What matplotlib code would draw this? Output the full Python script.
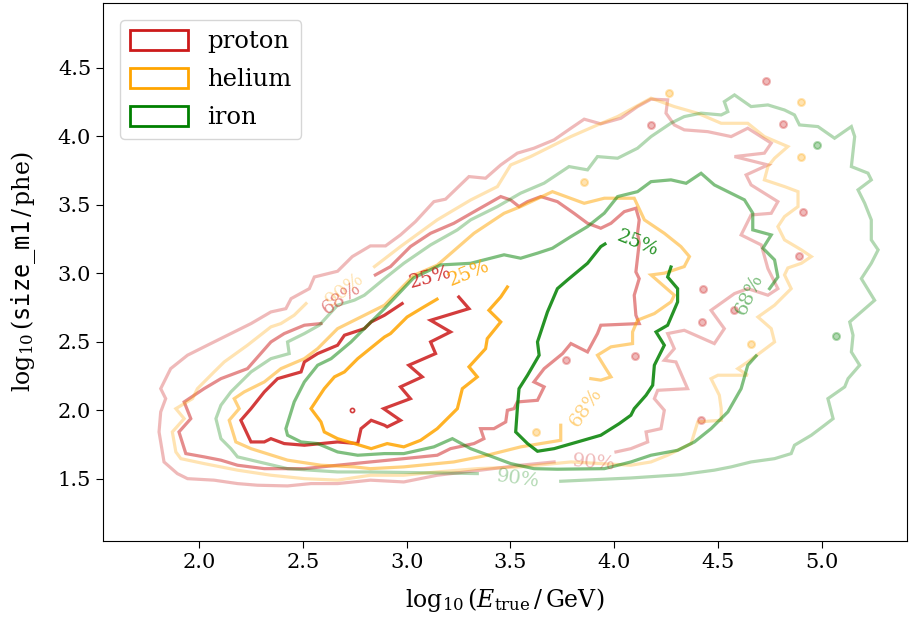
import matplotlib
matplotlib.use("Agg")
import matplotlib.pyplot as plt
from matplotlib.patches import Patch

plt.rcParams["font.family"] = "serif"
plt.rcParams["font.serif"] = ["DejaVu Serif"]
plt.rcParams["mathtext.fontset"] = "dejavuserif"

# ---- contour outlines (x: log10 E_true, y: log10 size) ----
# proton
proton_25_x = [2.978, 2.893, 2.829, 2.796, 2.700, 2.667, 2.571, 2.507, 2.491, 2.378, 2.314, 2.250, 2.201,
               2.250, 2.314, 2.346, 2.410, 2.507, 2.587, 2.667, 2.764, 2.780, 2.829, 2.893, 2.906, 2.970,
               2.889, 3.018, 2.970, 3.075, 3.010, 3.139, 3.115, 3.211, 3.115, 3.300, 3.251]
proton_25_y = [2.780, 2.695, 2.646, 2.597, 2.549, 2.476, 2.415, 2.354, 2.281, 2.232, 2.135, 2.013, 1.928,
               1.770, 1.770, 1.794, 1.758, 1.746, 1.758, 1.770, 1.758, 1.867, 1.928, 1.892, 1.880, 1.928,
               2.013, 2.086, 2.172, 2.245, 2.330, 2.415, 2.500, 2.573, 2.658, 2.743, 2.828]
proton_68_x = [2.849, 2.922, 3.018, 3.115, 3.227, 3.340, 3.453, 3.501, 3.541, 3.582, 3.646, 3.726, 3.806,
               3.871, 3.935, 3.984, 4.048, 4.104, 4.120, 4.112, 4.120, 4.104, 4.120, 4.096, 4.104, 4.120,
               3.935, 3.919, 3.871, 3.791, 3.751, 3.662, 3.613, 3.662, 3.630, 3.533, 3.517, 3.485, 3.477,
               3.420, 3.356, 3.372, 3.324, 3.211, 3.147, 2.986, 2.825, 2.667, 2.507, 2.314, 2.185, 2.105,
               2.024, 1.936, 1.903, 1.960, 1.928, 2.024, 2.105, 2.233, 2.346, 2.410, 2.507, 2.587]
proton_68_y = [2.989, 3.050, 3.196, 3.293, 3.366, 3.464, 3.561, 3.536, 3.488, 3.524, 3.561, 3.524, 3.439,
               3.366, 3.330, 3.366, 3.451, 3.476, 3.391, 3.294, 3.221, 3.011, 2.962, 2.841, 2.695, 2.634,
               2.622, 2.561, 2.427, 2.488, 2.415, 2.305, 2.208, 2.172, 2.074, 2.062, 2.013, 2.001, 1.916,
               1.867, 1.867, 1.794, 1.758, 1.721, 1.673, 1.648, 1.624, 1.600, 1.575, 1.575, 1.600, 1.637,
               1.661, 1.685, 1.843, 1.940, 2.062, 2.159, 2.232, 2.305, 2.500, 2.561, 2.622, 2.634]
proton_90_x = [3.710, 3.549, 3.356, 3.147, 2.986, 2.825, 2.667, 2.539, 2.426, 2.281, 2.185, 2.072, 1.944,
               1.895, 1.831, 1.807, 1.815, 1.839, 1.815, 1.863, 1.944, 2.040, 2.121, 2.250, 2.346, 2.418,
               2.443, 2.531, 2.555, 2.667, 2.738, 2.825, 2.898, 2.970, 3.042, 3.131, 3.187, 3.300, 3.380,
               3.453, 3.533, 3.613, 3.710, 3.791, 3.855, 3.935, 4.032, 4.112, 4.177, 4.257, 4.249, 4.289,
               4.337, 4.450, 4.563, 4.643, 4.756, 4.723, 4.579, 4.740, 4.635, 4.659, 4.788, 4.756, 4.659,
               4.611, 4.708, 4.740, 4.788, 4.740, 4.643, 4.579, 4.466, 4.530, 4.482, 4.337, 4.257, 4.289,
               4.241, 4.297, 4.353, 4.209, 4.193, 4.241, 4.225, 4.153, 4.161, 4.080, 4.008]
proton_90_y = [1.624, 1.600, 1.564, 1.527, 1.478, 1.491, 1.466, 1.466, 1.449, 1.454, 1.466, 1.491, 1.502,
               1.539, 1.624, 1.843, 1.989, 2.086, 2.159, 2.305, 2.403, 2.476, 2.537, 2.634, 2.719, 2.743,
               2.816, 2.889, 2.974, 3.016, 3.123, 3.201, 3.201, 3.281, 3.378, 3.524, 3.542, 3.707, 3.695,
               3.792, 3.878, 3.914, 3.975, 4.060, 4.126, 4.092, 4.133, 4.218, 4.272, 4.267, 4.170, 4.084,
               4.048, 4.035, 3.999, 4.060, 3.951, 3.878, 3.853, 3.792, 3.719, 3.646, 3.524, 3.439, 3.427,
               3.281, 3.208, 3.035, 2.889, 2.841, 2.889, 2.853, 2.731, 2.597, 2.488, 2.585, 2.561, 2.451,
               2.366, 2.354, 2.159, 2.147, 2.086, 2.001, 1.867, 1.843, 1.770, 1.721, 1.697]
proton_dots_x = [4.177, 4.732, 4.909, 4.891, 4.812, 4.418, 4.426, 4.579, 4.421, 3.766, 4.10]
proton_dots_y = [4.084, 4.408, 3.451, 3.128, 4.088, 1.929, 2.889, 2.731, 2.646, 2.366, 2.40]
proton_core_dots_x = [2.738]
proton_core_dots_y = [2.004]

# helium
helium_25_x = [3.146, 3.082, 3.002, 2.922, 2.893, 2.764, 2.700, 2.652, 2.603, 2.539, 2.587, 2.603, 2.667,
               2.748, 2.829, 2.906, 2.986, 3.067, 3.147, 3.244, 3.268, 3.340, 3.300, 3.380, 3.388, 3.453,
               3.396, 3.453, 3.485]
helium_25_y = [2.812, 2.755, 2.682, 2.561, 2.536, 2.378, 2.281, 2.245, 2.159, 2.013, 1.916, 1.843, 1.794,
               1.758, 1.721, 1.758, 1.734, 1.782, 1.867, 2.013, 2.159, 2.245, 2.318, 2.451, 2.524, 2.646,
               2.731, 2.828, 2.901]
helium_68_x = [3.742, 3.742, 3.549, 3.388, 3.227, 2.986, 2.825, 2.748, 2.587, 2.426, 2.250, 2.177, 2.145,
               2.193, 2.169, 2.217, 2.314, 2.394, 2.507, 2.571, 2.667, 2.893, 3.035, 3.147, 3.324, 3.469,
               3.549, 3.702, 3.855, 3.952, 4.096, 4.145, 4.241, 4.321, 4.362, 4.337, 4.241, 4.177, 4.289,
               4.273, 4.193, 4.112, 4.088, 4.088, 3.984, 3.919, 3.959, 3.984, 3.935, 3.887]
helium_68_y = [1.892, 1.782, 1.734, 1.673, 1.624, 1.588, 1.575, 1.588, 1.600, 1.637, 1.721, 1.770, 1.928,
               2.013, 2.086, 2.135, 2.208, 2.305, 2.378, 2.451, 2.597, 2.768, 2.987, 3.060, 3.293, 3.439,
               3.488, 3.597, 3.512, 3.549, 3.549, 3.391, 3.293, 3.196, 3.123, 3.050, 3.002, 2.989, 2.841,
               2.792, 2.707, 2.659, 2.573, 2.488, 2.464, 2.403, 2.305, 2.245, 2.221, 2.232]
helium_90_x = [2.845, 2.970, 3.147, 3.308, 3.437, 3.501, 3.597, 3.678, 3.791, 3.919, 4.016, 4.177, 4.289,
               4.402, 4.515, 4.643, 4.723, 4.836, 4.772, 4.740, 4.723, 4.820, 4.885, 4.885, 4.820, 4.788,
               4.820, 4.901, 4.949, 4.901, 4.836, 4.820, 4.852, 4.772, 4.692, 4.756, 4.772, 4.708, 4.643,
               4.595, 4.643, 4.499, 4.466, 4.506, 4.515, 4.515, 4.402, 4.370, 4.257, 4.177, 4.080, 3.791,
               3.549, 3.340, 3.147, 2.986, 2.825, 2.667, 2.507, 2.346, 2.185, 2.024, 1.912, 1.888, 1.871,
               1.928, 1.888, 1.968, 1.992, 2.072, 2.121, 2.233, 2.346, 2.394, 2.458, 2.515]
helium_90_y = [3.050, 3.196, 3.391, 3.536, 3.634, 3.792, 3.853, 3.914, 3.999, 4.084, 4.145, 4.279, 4.218,
               4.169, 4.096, 4.096, 3.999, 3.926, 3.841, 3.780, 3.683, 3.634, 3.597, 3.488, 3.415, 3.342,
               3.245, 3.172, 3.123, 3.074, 3.040, 2.989, 2.889, 2.768, 2.682, 2.597, 2.500, 2.427, 2.354,
               2.305, 2.257, 2.257, 2.232, 2.111, 2.013, 1.928, 1.916, 1.758, 1.673, 1.624, 1.600, 1.624,
               1.588, 1.575, 1.551, 1.527, 1.527, 1.491, 1.502, 1.527, 1.564, 1.612, 1.648, 1.697, 1.843,
               1.940, 2.013, 2.086, 2.159, 2.281, 2.354, 2.476, 2.610, 2.634, 2.695, 2.780]
helium_dots_x = [3.855, 4.264, 4.901, 4.901, 3.622, 4.659]
helium_dots_y = [3.670, 4.318, 4.254, 3.850, 1.843, 2.484]

# iron
iron_25_x = [3.955, 3.935, 3.871, 3.775, 3.726, 3.678, 3.630, 3.638, 3.582, 3.541, 3.533, 3.525, 3.582,
             3.630, 3.710, 3.823, 3.935, 4.024, 4.080, 4.096, 4.153, 4.185, 4.193, 4.241, 4.201, 4.257,
             4.305, 4.305, 4.257, 4.273]
iron_25_y = [3.215, 3.196, 3.074, 2.953, 2.889, 2.719, 2.500, 2.403, 2.257, 2.159, 2.013, 1.843, 1.758,
             1.702, 1.721, 1.770, 1.819, 1.904, 1.965, 2.013, 2.111, 2.184, 2.330, 2.476, 2.573, 2.622,
             2.792, 2.889, 2.974, 3.047]
iron_68_x = [4.683, 4.643, 4.611, 4.547, 4.466, 4.386, 4.305, 4.177, 4.080, 3.952, 3.726, 3.613, 3.501,
             3.308, 3.220, 3.131, 2.986, 2.893, 2.764, 2.667, 2.571, 2.491, 2.426, 2.418, 2.458, 2.507,
             2.571, 2.636, 2.732, 2.812, 2.893, 3.033, 3.163, 3.308, 3.469, 3.549, 3.630, 3.702, 3.791,
             3.871, 3.952, 4.016, 4.112, 4.177, 4.273, 4.346, 4.418, 4.482, 4.547, 4.627, 4.667, 4.667,
             4.756, 4.716, 4.772, 4.788, 4.748]
iron_68_y = [2.398, 2.330, 2.159, 1.989, 1.867, 1.770, 1.709, 1.673, 1.624, 1.575, 1.571, 1.575, 1.612,
             1.721, 1.794, 1.734, 1.685, 1.685, 1.673, 1.697, 1.758, 1.770, 1.819, 1.867, 2.062, 2.208,
             2.330, 2.378, 2.500, 2.622, 2.743, 2.967, 3.062, 3.074, 3.136, 3.111, 3.148, 3.184, 3.269,
             3.342, 3.440, 3.561, 3.597, 3.670, 3.683, 3.658, 3.731, 3.646, 3.597, 3.537, 3.440, 3.318,
             3.281, 3.184, 3.099, 2.974, 2.889]
iron_90_x = [3.340, 3.051, 2.825, 2.667, 2.426, 2.185, 2.153, 2.105, 2.081, 2.105, 2.153, 2.250, 2.346,
             2.434, 2.426, 2.507, 2.579, 2.667, 2.748, 2.796, 2.893, 2.986, 3.115, 3.244, 3.308, 3.437,
             3.549, 3.662, 3.782, 3.871, 3.919, 4.016, 4.112, 4.177, 4.273, 4.337, 4.418, 4.515, 4.547,
             4.530, 4.579, 4.659, 4.740, 4.820, 4.868, 4.892, 4.981, 5.061, 5.142, 5.158, 5.142, 5.222,
             5.238, 5.174, 5.206, 5.238, 5.238, 5.271, 5.238, 5.190, 5.254, 5.134, 5.150, 5.142, 5.182,
             5.126, 5.110, 5.029, 5.054, 5.013, 4.949, 4.868, 4.852, 4.772, 4.659, 4.563, 4.482, 4.321,
             4.080, 3.742]
iron_90_y = [1.539, 1.546, 1.551, 1.551, 1.575, 1.661, 1.721, 1.794, 1.940, 2.038, 2.135, 2.281, 2.378,
             2.415, 2.500, 2.561, 2.622, 2.768, 2.805, 2.841, 2.962, 3.074, 3.208, 3.318, 3.391, 3.488,
             3.586, 3.659, 3.780, 3.756, 3.853, 3.841, 3.914, 3.999, 4.097, 4.145, 4.170, 4.157, 4.181,
             4.254, 4.303, 4.218, 4.230, 4.193, 4.157, 4.084, 4.072, 3.987, 4.072, 3.999, 3.780, 3.732,
             3.683, 3.610, 3.513, 3.391, 3.245, 3.172, 3.074, 2.962, 2.804, 2.646, 2.549, 2.427, 2.330,
             2.232, 2.172, 2.086, 1.940, 1.892, 1.819, 1.746, 1.685, 1.648, 1.624, 1.588, 1.564, 1.531,
             1.507, 1.483]
iron_dots_x = [4.978, 5.069]
iron_dots_y = [3.938, 2.540]

# inline contour labels: text, x, y, rotation
proton_labels = [("25%", 3.115, 2.97, 15), ("68%", 2.685, 2.82, 35), ("90%", 3.902, 1.62, -5)]
helium_labels = [("25%", 3.30, 3.00, 22), ("68%", 3.863, 2.02, 55), ("90%", 2.70, 2.88, 38)]
iron_labels = [("25%", 4.114, 3.22, -22), ("68%", 4.65, 2.85, 65), ("90%", 3.535, 1.50, -8)]

species = ["proton", "helium", "iron"]
colors = ["#cc1a1a", "orange", "green"]
alphas = {"25": 0.85, "68": 0.5, "90": 0.3}

contours = {
    "proton": [("25", proton_25_x, proton_25_y), ("68", proton_68_x, proton_68_y), ("90", proton_90_x, proton_90_y)],
    "helium": [("25", helium_25_x, helium_25_y), ("68", helium_68_x, helium_68_y), ("90", helium_90_x, helium_90_y)],
    "iron": [("25", iron_25_x, iron_25_y), ("68", iron_68_x, iron_68_y), ("90", iron_90_x, iron_90_y)],
}
dots = {"proton": (proton_dots_x, proton_dots_y), "helium": (helium_dots_x, helium_dots_y),
        "iron": (iron_dots_x, iron_dots_y)}
labels = {"proton": proton_labels, "helium": helium_labels, "iron": iron_labels}

fig = plt.figure(figsize=(9.09, 6.26), dpi=100)
ax = fig.add_axes([0.1133, 0.1358, 0.8845, 0.8594])

for name, c in zip(species, colors):
    for lev, xs, ys in contours[name]:
        ax.plot(xs, ys, color=c, alpha=alphas[lev], lw=2.3, solid_joinstyle="miter")
    dx, dy = dots[name]
    ax.plot(dx, dy, "o", ms=5, mfc=c, mec=c, mew=1.5, alpha=0.3, ls="none")
    for txt, lx, ly, rot in labels[name]:
        ax.text(lx, ly, txt, color=c, alpha=alphas[txt[:2]], fontsize=14,
                rotation=rot, ha="center", va="center", rotation_mode="anchor")
ax.plot(proton_core_dots_x, proton_core_dots_y, "o", ms=3, mfc="none", mec=colors[0], mew=1.2,
        alpha=0.85, ls="none")

ax.set_xlim(1.537, 5.41)
ax.set_ylim(1.047, 4.974)
ax.set_xticks([2.0, 2.5, 3.0, 3.5, 4.0, 4.5, 5.0])
ax.set_yticks([1.5, 2.0, 2.5, 3.0, 3.5, 4.0, 4.5])
ax.tick_params(labelsize=15, length=5)
ax.set_xlabel(r"$\log_{10}(E_\mathrm{true}\,/\,\mathrm{GeV})$", fontsize=17, labelpad=10)
ax.set_ylabel(r"$\log_{10}(\mathtt{size\_m1}\,/\,\mathrm{phe})$", fontsize=17, labelpad=14)

handles = [Patch(facecolor="none", edgecolor=c, lw=2) for c in colors]
ax.legend(handles, species, loc="upper left", fontsize=17.5, handlelength=2.4,
          handleheight=0.9, labelspacing=0.6, borderaxespad=0.7)

fig.savefig("out.png", dpi=100)
